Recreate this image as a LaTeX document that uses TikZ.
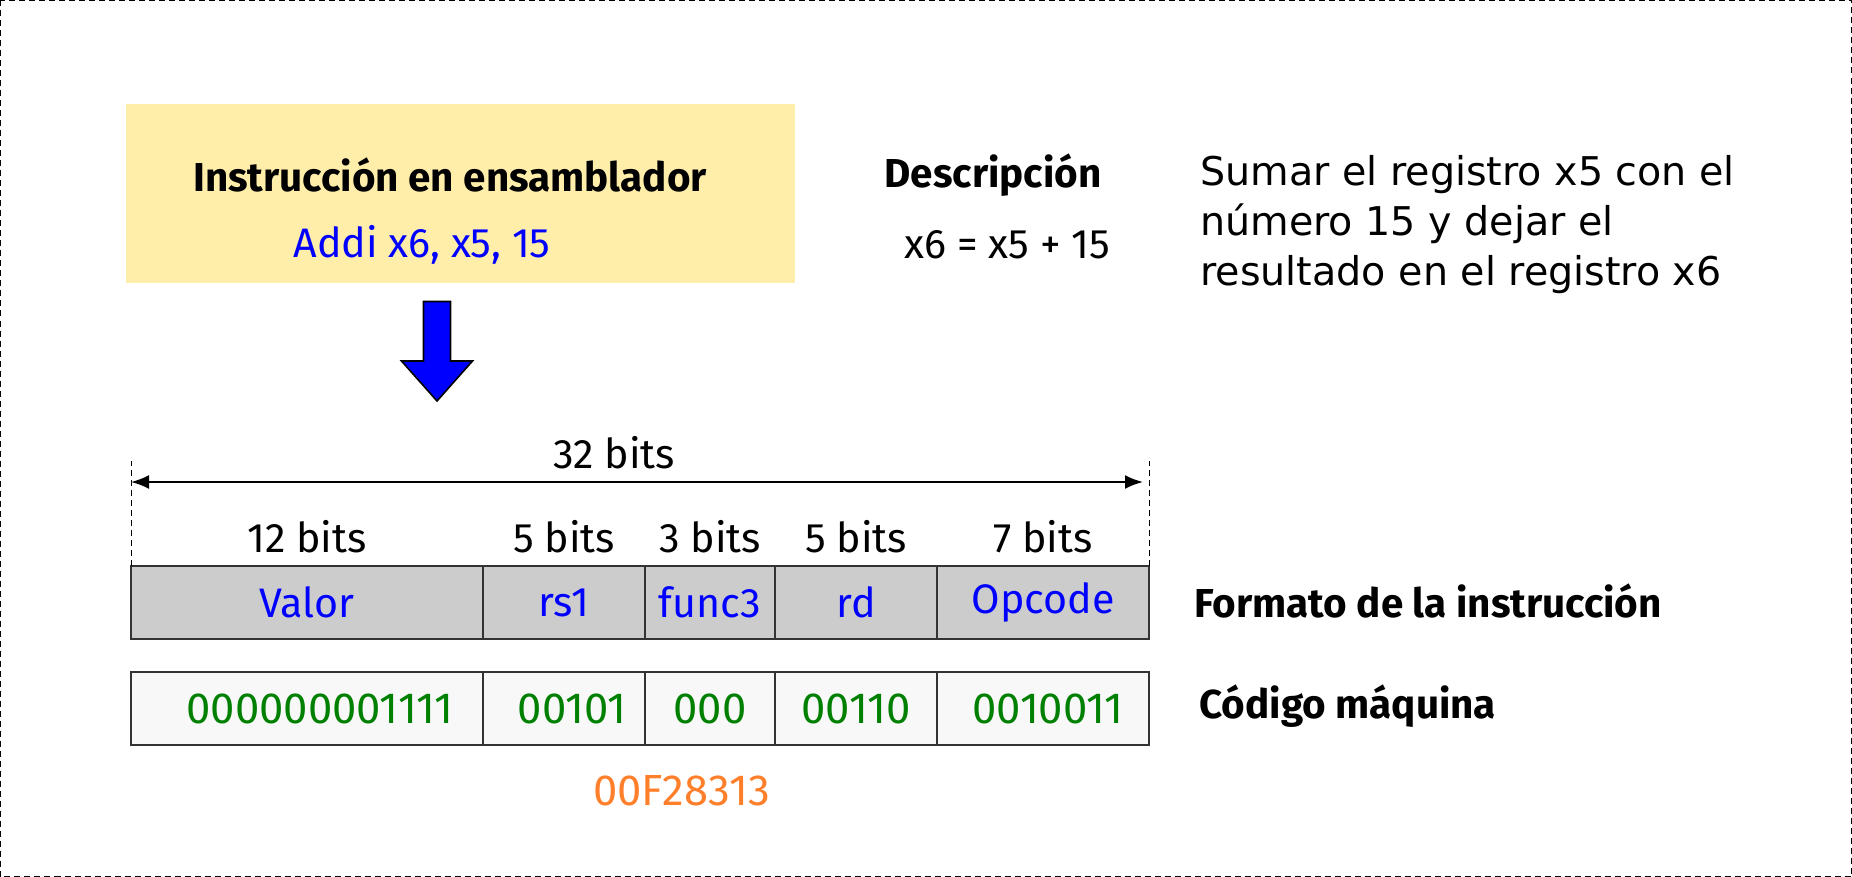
\documentclass[tikz,border=0pt]{standalone}
\usepackage{fontspec}
\setmainfont{Fira Sans}
\newfontfamily\dejavu{DejaVu Sans}
\usetikzlibrary{arrows.meta}
\definecolor{asmyellow}{HTML}{FFEEAA}
\definecolor{fieldgray}{HTML}{CCCCCC}
\definecolor{codewhite}{HTML}{F8F8F8}
\definecolor{edgegray}{HTML}{333333}
\definecolor{bitgreen}{HTML}{008000}
\definecolor{hexorange}{HTML}{FF7F2A}

\begin{document}
\begin{tikzpicture}[x=0.5pt,y=-0.5pt]
\tikzstyle{every node}+=[inner sep=0pt]
\tikzstyle{txt}=[font=\fontsize{20.6}{24}\selectfont]
\tikzstyle{num}=[font=\fontsize{21.8}{24}\selectfont]
\tikzstyle{bold}=[font=\bfseries\fontsize{20.2}{24}\selectfont]
\tikzstyle{field}=[txt, draw=edgegray, line width=1.2pt, outer sep=0pt, fill=fieldgray, text=blue, minimum height=36.5pt, anchor=west]
\tikzstyle{code}=[field, num, fill=codewhite, text=bitgreen]
\useasboundingbox (0,0) rectangle (1852,877);
\draw [black, densely dashed, line width=0.5pt] (0.5,0.5) rectangle (1851.5,876.5);
\node [fill=asmyellow, minimum width=334.5pt, minimum height=89.5pt] (asm) at (460.5,193.5) {};
\node [bold] (asmtitle) at (450,175) {Instrucción en ensamblador};
\node [txt, text=blue] (asmcode) at (422,244.5) {Addi x6, x5, 15};
\node [bold] (desctitle) at (993,175) {Descripción};
\node [txt] (descop) at (1007.5,244.5) {x6 = x5 + 15};
\node [anchor=west, align=left, font=\dejavu\fontsize{19.8}{24.8}\selectfont] (desc) at (1200,224.5) {Sumar el registro x5 con el\\número 15 y dejar el\\resultado en el registro x6};
\draw [black, fill=blue, line width=0.8pt] (423.5,301.5) -- (450.5,301.5) -- (450.5,361) -- (472.5,361) -- (437,401) -- (401.5,361) -- (423.5,361) -- cycle;
\node [field, minimum width=176pt] (valor) at (131,602.5) {Valor};
\node [field, minimum width=81pt] (rs1) at (valor.east) {rs1};
\node [field, minimum width=65pt] (func3) at (rs1.east) {func3};
\node [field, minimum width=81pt] (rd) at (func3.east) {rd};
\node [field, minimum width=106pt] (opcode) at (rd.east) {Opcode};
\node [code, minimum width=176pt] (cvalor) at (131,708.5) {\hspace{13pt}000000001111};
\node [code, minimum width=81pt] (crs1) at (cvalor.east) {\hspace{8pt}00101};
\node [code, minimum width=65pt] (cfunc3) at (crs1.east) {000};
\node [code, minimum width=81pt] (crd) at (cfunc3.east) {00110};
\node [code, minimum width=106pt] (copcode) at (crd.east) {\hspace{5pt}0010011};
\node [txt] at ([yshift=14.5pt]valor.north) {12 bits};
\node [txt] at ([yshift=14.5pt]rs1.north) {5 bits};
\node [txt] at ([yshift=14.5pt]func3.north) {3 bits};
\node [txt] at ([yshift=14.5pt]rd.north) {5 bits};
\node [txt] at ([yshift=14.5pt]opcode.north) {7 bits};
\draw [black, densely dashed, line width=0.4pt] (valor.north west) -- ++(0,-105) coordinate (dimL);
\draw [black, densely dashed, line width=0.4pt] (opcode.north east) -- ++(0,-105) coordinate (dimR);
\draw [black, line width=1pt, {Latex[length=9pt,width=7pt]}-{Latex[length=9pt,width=7pt]}] ([yshift=-10.5pt]dimL) -- ([yshift=-10.5pt,xshift=-3pt]dimR);
\node [txt] (total) at (614,453) {32 bits};
\node [bold, anchor=west] (formato) at (1194,601) {Formato de la instrucción};
\node [bold, anchor=west] (codigo) at (1199,706) {Código máquina};
\node [num, text=hexorange] (hex) at (681.5,791) {00F28313};
\end{tikzpicture}
\end{document}
